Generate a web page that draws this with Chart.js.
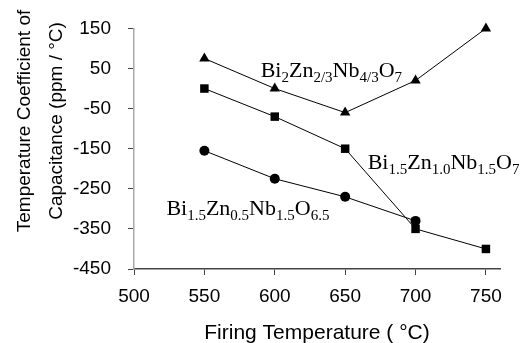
<!DOCTYPE html>
<html>
<head>
<meta charset="utf-8">
<script src="https://cdn.jsdelivr.net/npm/chart.js@4/dist/chart.umd.min.js"></script>
<style>
  html, body { margin: 0; padding: 0; background: #fff; }
  #wrap { width: 531px; height: 343px; }
</style>
</head>
<body>
<div id="wrap"><canvas id="chart"></canvas></div>
<script>
// Firing temperatures (degC)
const temps = [550, 600, 650, 700, 750];
const xTicks = [500, 550, 600, 650, 700, 750];

// TCC values (ppm / degC)
const tccBZN2 = [75, 0, -60, 20, 150];        // Bi2Zn2/3Nb4/3O7 (triangles)
const tccBZN10 = [0, -70, -150, -350, -400];  // Bi1.5Zn1.0Nb1.5O7 (squares)
const tccBZN05 = [-155, -225, -270, -330];    // Bi1.5Zn0.5Nb1.5O6.5 (circles)

// series labels: pieces of [text, isSubscript], anchored at data coords
const seriesLabels = [
    { x: 590, y: 30, parts: [['Bi', 0], ['2', 1], ['Zn', 0], ['2/3', 1], ['Nb', 0], ['4/3', 1], ['O', 0], ['7', 1]] },
    { x: 666, y: -200, parts: [['Bi', 0], ['1.5', 1], ['Zn', 0], ['1.0', 1], ['Nb', 0], ['1.5', 1], ['O', 0], ['7', 1]] },
    { x: 523, y: -316, parts: [['Bi', 0], ['1.5', 1], ['Zn', 0], ['0.5', 1], ['Nb', 0], ['1.5', 1], ['O', 0], ['6.5', 1]] }
];

const xTitle = 'Firing Temperature ( °C)';
const yTitle = ['Temperature Coefficient of', 'Capacitance (ppm / °C)'];

const toPoints = (vals) => vals.map((v, i) => ({ x: temps[i], y: v }));

// draws the formula labels and axis titles
const textPlugin = {
    id: 'textPlugin',
    afterDraw(chart) {
        const ctx = chart.ctx;
        const xs = chart.scales.x, ys = chart.scales.y;
        ctx.save();
        ctx.fillStyle = '#000';
        ctx.textBaseline = 'alphabetic';
        ctx.textAlign = 'left';
        seriesLabels.forEach(lab => {
            let px = xs.getPixelForValue(lab.x);
            const py = ys.getPixelForValue(lab.y);
            lab.parts.forEach(([t, sub]) => {
                ctx.font = sub ? '15px "Liberation Serif"' : '22px "Liberation Serif"';
                ctx.fillText(t, px, sub ? py + 5 : py);
                px += ctx.measureText(t).width;
            });
        });

        ctx.font = '21px "Liberation Sans"';
        ctx.textAlign = 'center';
        ctx.textBaseline = 'middle';
        const area = chart.chartArea;
        ctx.fillText(xTitle, (area.left + area.right) / 2, 333);

        ctx.font = '19px "Liberation Sans"';
        ctx.translate(0, 121);
        ctx.rotate(-Math.PI / 2);
        ctx.fillText(yTitle[0], 0, 25);
        ctx.fillText(yTitle[1], 0, 57);
        ctx.restore();
    }
};

const lineStyle = {
    borderColor: '#000',
    backgroundColor: '#000',
    borderWidth: 1,
    pointBorderColor: '#000',
    pointBackgroundColor: '#000',
    pointBorderWidth: 0,
    tension: 0,
    clip: false
};

new Chart(document.getElementById('chart'), {
    type: 'line',
    data: {
        datasets: [
            Object.assign({ label: 'BZN 2/3', data: toPoints(tccBZN2), pointStyle: 'triangle', pointRadius: 6 }, lineStyle),
            Object.assign({ label: 'BZN 1.0', data: toPoints(tccBZN10), pointStyle: 'rect', pointRadius: 6 }, lineStyle),
            Object.assign({ label: 'BZN 0.5', data: toPoints(tccBZN05), pointStyle: 'circle', pointRadius: 5 }, lineStyle)
        ]
    },
    options: {
        responsive: true,
        maintainAspectRatio: false,
        animation: false,
        layout: { padding: { top: 24, right: 31, left: 0, bottom: 0 } },
        plugins: {
            legend: { display: false },
            tooltip: { enabled: false }
        },
        scales: {
            x: {
                type: 'linear',
                min: 500,
                max: 760,
                afterBuildTicks: (axis) => { axis.ticks = xTicks.map(v => ({ value: v })); },
                afterFit: (axis) => { axis.height = 74; },
                border: { color: '#444', width: 1.5 },
                grid: { drawOnChartArea: false, tickLength: 6, color: '#444' },
                ticks: {
                    padding: 10,
                    color: '#000',
                    maxRotation: 0,
                    autoSkip: false,
                    font: { family: '"Liberation Sans"', size: 19 }
                }
            },
            y: {
                min: -450,
                max: 150,
                afterFit: (axis) => { axis.width = 134; },
                border: { color: '#aaa', width: 1.5 },
                grid: { drawOnChartArea: false, tickLength: 6, color: '#444' },
                ticks: {
                    stepSize: 100,
                    padding: 17,
                    color: '#000',
                    font: { family: '"Liberation Sans"', size: 19 }
                }
            }
        }
    },
    plugins: [textPlugin]
});
</script>
</body>
</html>
